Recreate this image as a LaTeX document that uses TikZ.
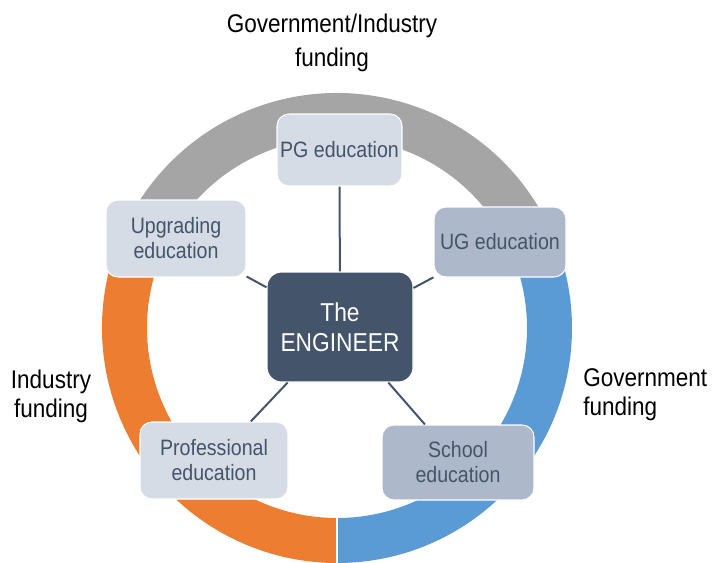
\documentclass[tikz,border=0pt]{standalone}
\usepackage{fontspec}
\setmainfont{Liberation Sans}[FakeStretch=0.88]
\usepackage{tikz}

\definecolor{slate}{HTML}{44546A}
\definecolor{paleblue}{HTML}{D6DCE5}
\definecolor{greyblue}{HTML}{ADB9CA}
\definecolor{ringgrey}{HTML}{A5A5A5}
\definecolor{ringorange}{HTML}{ED7D31}
\definecolor{ringblue}{HTML}{5B9BD5}

\tikzset{
    edu/.style={draw=white, line width=0.8pt, rounded corners=9pt, text=slate, align=center,
        inner sep=0pt, font=\fontsize{16.7}{18.8}\selectfont},
    fund/.style={inner sep=0pt, text=black, font=\fontsize{19.2}{21.75}\selectfont},
    link/.style={draw=slate, line width=1.5pt}
}

\begin{document}
\begin{tikzpicture}[x=0.75pt, y=0.75pt]
        \useasboundingbox (0,0) rectangle (714,562);
        \coordinate (O) at (337,234);

        \draw[ringgrey, line width=33.75pt] (O) ++(30:212.5) arc[start angle=30, end angle=150, radius=212.5];
        \draw[ringorange, line width=33.75pt] (O) ++(150:212.5) arc[start angle=150, end angle=270, radius=212.5];
        \draw[ringblue, line width=33.75pt] (O) ++(-90:212.5) arc[start angle=-90, end angle=30, radius=212.5];
        \draw[white, line width=1.2pt] (O) ++(270:189) -- ++(0,-48);

        \node[edu, fill=slate, text=white, rounded corners=11pt, minimum width=109.5pt, minimum height=82.5pt,
            font=\fontsize{19.4}{22.5}\selectfont] (eng) at (340,235) {The\\ENGINEER};
        \node[edu, fill=paleblue, minimum width=93.75pt, minimum height=54pt] (pg) at (339.5,412) {PG education};
        \node[edu, fill=paleblue, minimum width=105pt, minimum height=57.75pt] (upg) at (176,323.5) {Upgrading\\education};
        \node[edu, fill=greyblue, minimum width=99pt, minimum height=52.5pt] (ug) at (500,320) {UG education};
        \node[edu, fill=paleblue, minimum width=111pt, minimum height=57.75pt] (prof) at (214,101.5) {Professional\\education};
        \node[edu, fill=greyblue, minimum width=114pt, minimum height=56.25pt] (school) at (458,99.5) {School\\education};

        \draw[link] (eng) -- (pg);
        \draw[link] (eng) -- (upg);
        \draw[link] (eng) -- (ug);
        \draw[link] (eng) -- (prof);
        \draw[link] (eng) -- (school);

        \node[fund, align=center, font=\fontsize{19.2}{25.5}\selectfont] (topfund) at (332,519) {Government/Industry\\funding};
        \node[fund, align=center] (leftfund) at (51,166) {Industry\\funding};
        \node[fund, align=left, anchor=west] (rightfund) at (583,167) {Government\\funding};

    \end{tikzpicture}
\end{document}
